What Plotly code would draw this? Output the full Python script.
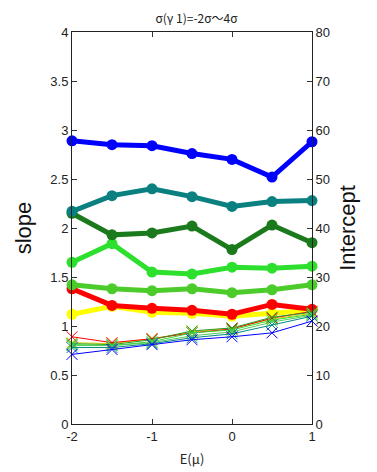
import plotly.graph_objects as go

x_vals = [-2, -1.5, -1, -0.5, 0, 0.5, 1]

# slope series (left axis)
slope_blue = [2.89, 2.85, 2.84, 2.76, 2.70, 2.52, 2.88]
slope_teal = [2.17, 2.33, 2.40, 2.32, 2.22, 2.27, 2.28]
slope_darkgreen = [2.15, 1.93, 1.95, 2.02, 1.78, 2.03, 1.85]
slope_green = [1.65, 1.84, 1.55, 1.53, 1.60, 1.59, 1.61]
slope_lightgreen = [1.42, 1.38, 1.36, 1.38, 1.34, 1.37, 1.42]
slope_red = [1.38, 1.21, 1.18, 1.16, 1.12, 1.22, 1.17]
slope_yellow = [1.12, 1.20, 1.14, 1.13, 1.10, 1.13, 1.16]

# intercept series (right axis)
int_red = [17.8, 16.6, 17.4, 18.6, 19.4, 21.6, 23.0]
int_yellow = [16.6, 16.4, 17.4, 18.8, 19.6, 21.4, 22.6]
int_darkgreen = [16.4, 16.2, 17.2, 19.0, 19.6, 21.8, 22.8]
int_green = [16.2, 16.0, 16.8, 18.6, 19.2, 21.2, 22.4]
int_lightgreen = [16.0, 16.0, 16.6, 18.0, 18.8, 20.8, 22.2]
int_teal = [15.6, 15.6, 16.4, 17.6, 18.4, 20.2, 22.0]
int_blue = [14.2, 15.2, 16.2, 17.2, 17.8, 18.6, 21.0]

c_blue = "#0000ff"
c_teal = "#0a8080"
c_darkgreen = "#1b7a1b"
c_green = "#2ee02e"
c_lightgreen = "#4ccc2a"
c_red = "#ff0000"
c_yellow = "#ffff00"

fig = go.Figure()

thick = [
    (slope_yellow, c_yellow),
    (slope_red, c_red),
    (slope_lightgreen, c_lightgreen),
    (slope_green, c_green),
    (slope_darkgreen, c_darkgreen),
    (slope_teal, c_teal),
    (slope_blue, c_blue),
]
for ys, col in thick:
    fig.add_trace(go.Scatter(
        x=x_vals, y=ys, mode="lines+markers",
        line=dict(color=col, width=5),
        marker=dict(symbol="circle", size=11, color=col),
        cliponaxis=False, showlegend=False, yaxis="y"))

thin = [
    (int_yellow, "#e0d000"),
    (int_red, c_red),
    (int_darkgreen, "#2a9a2a"),
    (int_green, "#33dd33"),
    (int_lightgreen, "#55cc55"),
    (int_teal, "#008888"),
    (int_blue, c_blue),
]
for ys, col in thin:
    fig.add_trace(go.Scatter(
        x=x_vals, y=ys, mode="lines+markers",
        line=dict(color=col, width=1),
        marker=dict(symbol="x-thin", size=11, line=dict(color=col, width=1)),
        cliponaxis=False, showlegend=False, yaxis="y2"))

font_tick = dict(family="Liberation Sans, Arial", size=13, color="#222222")

fig.update_layout(
    width=377, height=472,
    margin=dict(l=64, r=73, t=24, b=56),
    paper_bgcolor="white", plot_bgcolor="white",
    title=dict(text="σ(γ 1)=-2σ～4σ", x=0.5, xanchor="center", y=0.978, yanchor="middle",
               font=dict(family="Noto Sans CJK JP", size=12, color="#222222")),
    xaxis=dict(range=[-2, 1], tickvals=[-2, -1, 0, 1], ticktext=["-2", "-1", "0", "1"],
               ticks="inside", ticklen=5, tickcolor="#333333",
               showline=True, linecolor="#222222", linewidth=1, mirror="ticks",
               showgrid=False, zeroline=False, tickfont=font_tick,
               title=dict(text="E(μ)", font=dict(family="Noto Sans CJK JP", size=13, color="#222222"), standoff=12)),
    yaxis=dict(range=[0, 4], tickvals=[0, 0.5, 1, 1.5, 2, 2.5, 3, 3.5, 4],
               ticktext=["0", "0.5", "1", "1.5", "2", "2.5", "3", "3.5", "4"],
               ticks="inside", ticklen=5, tickcolor="#333333",
               showline=True, linecolor="#222222", linewidth=1,
               showgrid=False, zeroline=False, tickfont=font_tick,
               title=dict(text="slope", font=dict(family="Liberation Sans, Arial", size=22, color="#111111"), standoff=12)),
    yaxis2=dict(range=[0, 80], tickvals=[0, 10, 20, 30, 40, 50, 60, 70, 80],
                overlaying="y", side="right",
                ticks="inside", ticklen=5, tickcolor="#333333",
                showline=True, linecolor="#222222", linewidth=1,
                showgrid=False, zeroline=False, tickfont=font_tick,
                title=dict(text="Intercept", font=dict(family="Liberation Sans, Arial", size=22, color="#111111"), standoff=10)),
)

fig.write_html("out.html")
